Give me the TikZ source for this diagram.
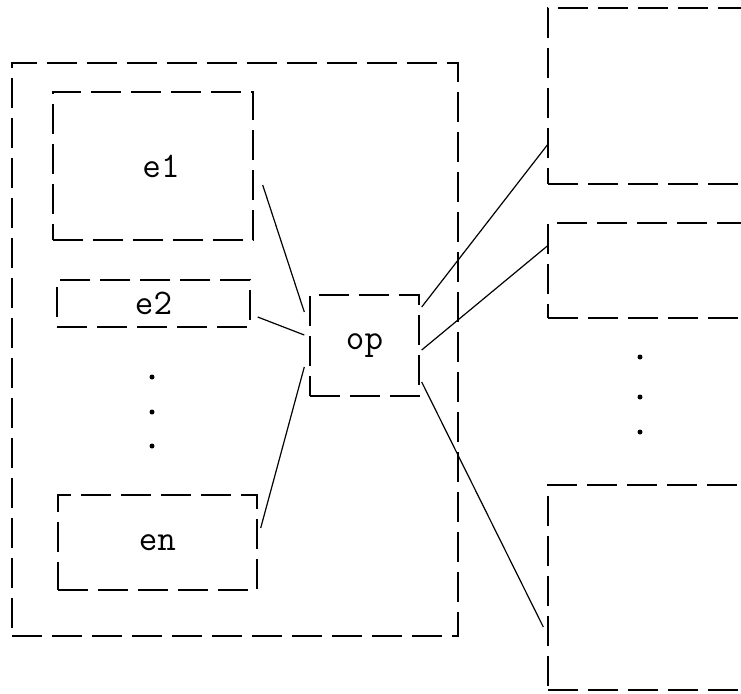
\documentclass[tikz,border=0pt]{standalone}

\begin{document}
\begin{tikzpicture}[x=0.5pt,y=-0.5pt,
    box/.style={draw, dash pattern=on 15pt off 5pt, line width=0.7pt, inner sep=0pt,
        font=\ttfamily\fontsize{18}{20}\selectfont},
    link/.style={line width=0.6pt}]
\useasboundingbox (0,0) rectangle (741,693);
\clip (0,0) rectangle (741,693);

% outer box with the elements
\node[box, minimum width=223pt, minimum height=286.5pt] (outer) at (235,349.5) {};
\node[box, minimum width=100pt, minimum height=74pt] (e1) at (153,166) {\hspace{8pt}e1};
\node[box, minimum width=96.5pt, minimum height=23.5pt] (e2) at (153.5,303.5) {e2};
\node[box, minimum width=99.5pt, minimum height=47.5pt] (en) at (157.5,542.5) {en};
\foreach \y in {377,412,446} {
    \fill (152,\y) circle (2.5);
}

% operator
\node[box, minimum width=54.5pt, minimum height=50.5pt] (op) at (364.5,345.5) {op};

% right boxes
\node[box, minimum width=126pt, minimum height=88pt] (r1) at (674,96) {};
\node[box, minimum width=126pt, minimum height=47.5pt] (r2) at (674,270.5) {};
\node[box, minimum width=126pt, minimum height=102.5pt] (r3) at (674,587.5) {};
\foreach \y in {357,397,432} {
    \fill (640,\y) circle (2.5);
}

% links
\draw[link] ([xshift=4.5pt,yshift=-9.5pt]e1.east) -- ([xshift=-2.5pt,yshift=16.75pt]op.west);
\draw[link] ([xshift=3.5pt,yshift=-6.75pt]e2.east) -- ([xshift=-2.5pt,yshift=5.25pt]op.west);
\draw[link] ([xshift=1.5pt,yshift=7.25pt]en.east) -- ([xshift=-2.5pt,yshift=-10.75pt]op.west);
\draw[link] ([xshift=1pt,yshift=19.25pt]op.east) -- ([yshift=-24.5pt]r1.west);
\draw[link] ([xshift=1pt,yshift=-2.25pt]op.east) -- ([yshift=12.25pt]r2.west);
\draw[link] ([xshift=1pt,yshift=-18.25pt]op.east) -- ([xshift=-2pt,yshift=-19.75pt]r3.west);
\end{tikzpicture}
\end{document}
